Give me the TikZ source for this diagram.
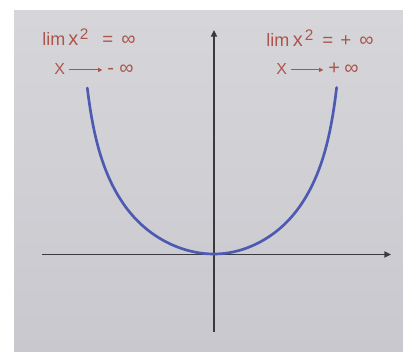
\documentclass[tikz,border=0pt]{standalone}
\usepackage{fontspec}
\setmainfont{Liberation Sans}
\usetikzlibrary{arrows.meta}
\definecolor{bgtop}{RGB}{214,214,218}
\definecolor{bgbot}{RGB}{200,200,206}
\definecolor{curveblue}{RGB}{78,90,178}
\definecolor{labelred}{RGB}{170,86,76}
\definecolor{axisgray}{RGB}{58,58,62}
\tikzset{
  lbl/.style={text=labelred, inner sep=0pt, anchor=base west, font=\fontsize{14}{16}\selectfont},
  lbllim/.style={lbl, font=\fontsize{13.5}{16}\selectfont},
  lblx/.style={lbl, font=\fontsize{15}{17}\selectfont},
  lblX/.style={lbl, font=\fontsize{12}{14}\selectfont},
  lblsym/.style={lbl, font=\fontsize{15}{17}\selectfont},
  lblsup/.style={lbl, font=\fontsize{11.5}{13}\selectfont},
  axis/.style={draw=axisgray, line width=1.4pt, -{Triangle[length=5pt,width=4.5pt]}},
  tendsto/.style={draw=labelred, line width=0.8pt, -{Triangle[length=3.2pt,width=3.2pt]}},
  curve/.style={draw=curveblue, line width=2pt, line cap=round}
}
\begin{document}
\begin{tikzpicture}[x=0.75pt,y=-0.75pt]
\useasboundingbox (0,0) rectangle (403,352);
\fill[white] (0,0) rectangle (403,352);
\shade[top color=bgtop, bottom color=bgbot] (14,11) rectangle (403,352);
% axes
\coordinate (xl) at (42,254.5);
\coordinate (xr) at (391,254.5);
\coordinate (yb) at (214,332);
\coordinate (yt) at (214,30);
\draw[axis] (xl) -- (xr);
\draw[axis] (yb) -- (yt);
% curve
\draw[curve, variable=\t, samples=90, domain=1:0]
  plot ({214-126.7*\t},{254-83.5*\t^2-56*\t^6-26.5*\t^20});
\draw[curve, variable=\t, samples=90, domain=0:1]
  plot ({214+122.7*\t},{254-84*\t^2-56*\t^6-27*\t^20});
% left labels
\node[lbllim] (llim) at (42,46) {lim};
\node[lblx] (lx) at (68,46) {x};
\node[lblsup] (lsq) at (79.5,39.5) {2};
\node[lbl] (leq) at (102,46) {=};
\node[lblsym] (linf) at (121,46) {∞};
\node[lblX] (lX) at (54,75) {X};
\node[lblsym] (lminus) at (107,75) {-};
\node[lblsym] (linf2) at (119,75) {∞};
\draw[tendsto] ([xshift=3pt,yshift=3.8pt]lX.base east) -- ([xshift=-3.5pt,yshift=3.8pt]lminus.base west);
% right labels
\node[lbllim] (rlim) at (266,47) {lim};
\node[lblx] (rx) at (292.5,47) {x};
\node[lblsup] (rsq) at (304.5,40.5) {2};
\node[lbl] (req) at (322,47) {=};
\node[lbl] (rplus) at (340,47) {+};
\node[lblsym] (rinf) at (359,47) {∞};
\node[lblX] (rX) at (276,75) {X};
\node[lblsym] (rplus2) at (328,75) {+};
\node[lblsym] (rinf2) at (344,75) {∞};
\draw[tendsto] ([xshift=3pt,yshift=3.8pt]rX.base east) -- ([xshift=-3.5pt,yshift=3.8pt]rplus2.base west);
\end{tikzpicture}
\end{document}
